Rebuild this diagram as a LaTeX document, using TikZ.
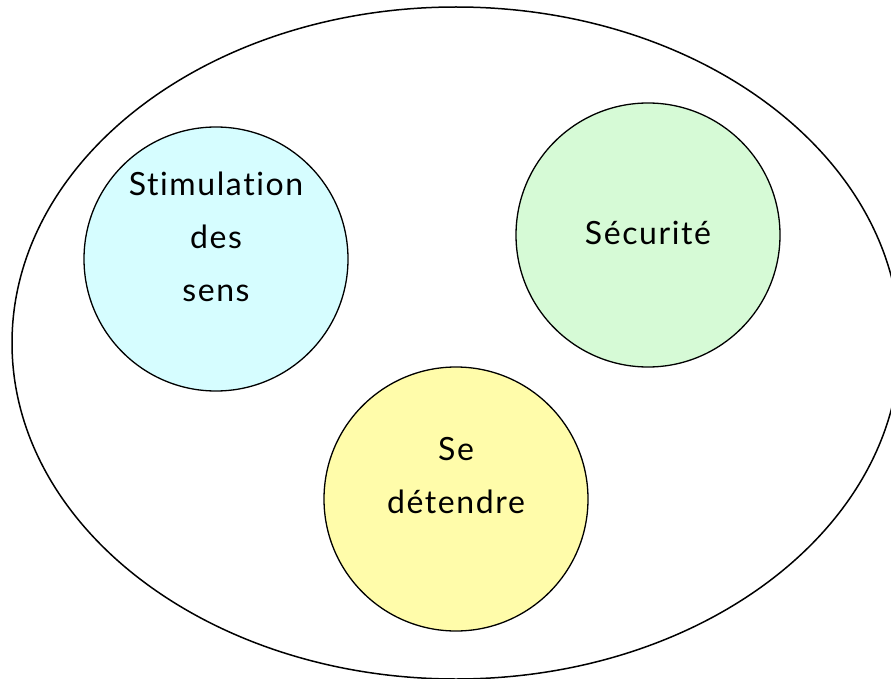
\documentclass[tikz,border=0pt]{standalone}
\usepackage{fontspec}
\setmainfont{Lato}[LetterSpace=5,Ligatures={NoCommon,NoRare}]
\definecolor{skyfill}{RGB}{214,253,255}
\definecolor{mintfill}{RGB}{214,250,214}
\definecolor{lemonfill}{RGB}{255,252,170}
\begin{document}
\begin{tikzpicture}[x=1pt,y=-1pt,
  theme/.style={circle,draw=black,line width=1.3pt,minimum size=264pt,inner sep=0pt},
  label/.style={font=\fontsize{32}{53}\selectfont,align=center}]
\useasboundingbox (0,0) rectangle (891,679);
\begin{scope}
\clip (0,0) rectangle (891,679);
\draw[line width=1.5pt] (456,343) ellipse [x radius=444, y radius=336];
\end{scope}
\node[theme,fill=skyfill] (sens) at (216,259) {};
\node[theme,fill=mintfill] (secu) at (648,235) {};
\node[theme,fill=lemonfill] (detente) at (456,499) {};
\node[label] (tsens) at (216,237) {Stimulation\\des\\sens};
\node[label] (tsecu) at (648,233) {Sécurité};
\node[label] (tdet) at (456,476) {Se\\détendre};
\end{tikzpicture}
\end{document}
